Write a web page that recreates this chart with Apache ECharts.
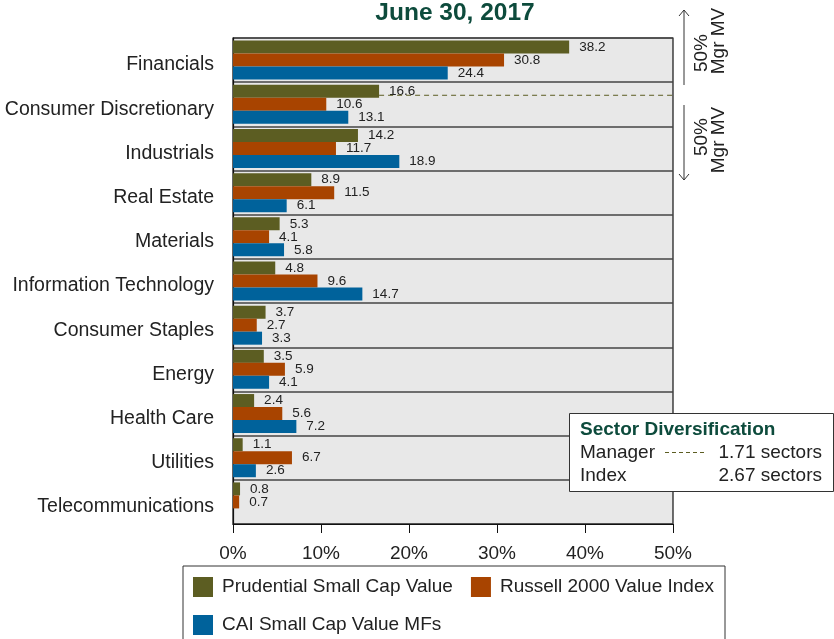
<!DOCTYPE html>
<html>
<head>
<meta charset="utf-8">
<script src="https://cdn.jsdelivr.net/npm/echarts@6/dist/echarts.min.js"></script>
<style>
html,body{margin:0;padding:0;background:#fff;}
#c{width:834px;height:639px;}
</style>
</head>
<body>
<div id="c"></div>
<script>
var categories = ['Financials','Consumer Discretionary','Industrials','Real Estate','Materials','Information Technology','Consumer Staples','Energy','Health Care','Utilities','Telecommunications'];
var prudential = [38.2,16.6,14.2,8.9,5.3,4.8,3.7,3.5,2.4,1.1,0.8];
var russell = [30.8,10.6,11.7,11.5,4.1,9.6,2.7,5.9,5.6,6.7,0.7];
var caiMFs = [24.4,13.1,18.9,6.1,5.8,14.7,3.3,4.1,7.2,2.6,null];
var seriesNames = ['Prudential Small Cap Value','Russell 2000 Value Index','CAI Small Cap Value MFs'];
var xTicks = [0,10,20,30,40,50];
var managerLineCategory = 1;
var managerLineEnd = 50;
var diversification = [['Manager','1.71 sectors'],['Index','2.67 sectors']];

var colors = ['#5c5d22','#a84400','#00629b'];
var font = 'Liberation Sans, Arial, sans-serif';
var chart = echarts.init(document.getElementById('c'));

function barSeries(name, data, color){
  return {
    name: name, type: 'bar', data: data, barWidth: 13, barGap: '0%',
    itemStyle: {color: color},
    label: {show: true, position: 'right', distance: 10, color: '#222', fontFamily: font, fontSize: 13.5,
      formatter: function(p){ return p.value == null ? '' : p.value.toFixed(1); }},
    z: 2
  };
}

var option = {
  animation: false,
  textStyle: {fontFamily: font},
  title: {text: 'June 30, 2017', left: 450, textAlign: 'center', top: -4,
    textStyle: {fontFamily: font, fontSize: 24.5, fontWeight: 'bold', color: '#0d4b3c'}},
  grid: {left: 233, right: 161, top: 38, bottom: 115, show: true, backgroundColor: '#e8e8e8', borderColor: '#111', borderWidth: 1.2},
  xAxis: {type: 'value', min: xTicks[0], max: xTicks[xTicks.length-1], interval: 10,
    axisLine: {show: true, lineStyle: {color: '#111', width: 1.2}},
    axisTick: {show: true, length: 9, lineStyle: {color: '#111'}},
    splitLine: {show: false},
    axisLabel: {formatter: '{value}%', fontSize: 19, color: '#222', margin: 20, fontFamily: font}},
  yAxis: {type: 'category', data: categories, inverse: true,
    axisLine: {show: true, lineStyle: {color: '#111', width: 1.2}},
    axisTick: {show: false},
    splitLine: {show: true, lineStyle: {color: '#444', width: 1.5}},
    axisLabel: {fontSize: 19.5, color: '#222', margin: 19, fontFamily: font, verticalAlign: 'top', lineHeight: 10}},
  legend: {data: seriesNames, left: 183, top: 566, width: 530, orient: 'horizontal',
    itemWidth: 20, itemHeight: 20, itemGap: 18, icon: 'rect',
    borderColor: '#333', borderWidth: 1, padding: [11, 11, 12, 10],
    textStyle: {fontSize: 19, color: '#222', fontFamily: font, padding: [0, 6, 0, 4]}},
  series: [
    barSeries(seriesNames[0], prudential, colors[0]),
    barSeries(seriesNames[1], russell, colors[1]),
    barSeries(seriesNames[2], caiMFs, colors[2]),
    {type: 'custom', name: 'managerLine', silent: true, z: 5,
      data: [[prudential[managerLineCategory], managerLineCategory, managerLineEnd]],
      encode: {x: 0, y: 1},
      renderItem: function(params, api){
        var p1 = api.coord([api.value(0), api.value(1)]);
        var p2 = api.coord([api.value(2), api.value(1)]);
        var y = p1[1] - 9;
        return {type: 'line', shape: {x1: p1[0], y1: y, x2: p2[0], y2: y},
          style: {stroke: colors[0], lineWidth: 1, lineDash: [5, 4]}};
      }}
  ],
  graphic: [
    {type: 'line', shape: {x1: 684, y1: 10, x2: 684, y2: 85}, style: {stroke: '#333', lineWidth: 1}},
    {type: 'polyline', shape: {points: [[679, 16], [684, 10], [689, 16]]}, style: {stroke: '#333', lineWidth: 1, fill: null}},
    {type: 'text', x: 702, y: 53, rotation: Math.PI/2, style: {text: '50%', font: '19px ' + font, fill: '#222', align: 'center', verticalAlign: 'middle'}},
    {type: 'text', x: 719, y: 41, rotation: Math.PI/2, style: {text: 'Mgr MV', font: '19px ' + font, fill: '#222', align: 'center', verticalAlign: 'middle'}},
    {type: 'line', shape: {x1: 684, y1: 105, x2: 684, y2: 180}, style: {stroke: '#333', lineWidth: 1}},
    {type: 'polyline', shape: {points: [[679, 174], [684, 180], [689, 174]]}, style: {stroke: '#333', lineWidth: 1, fill: null}},
    {type: 'text', x: 702, y: 137, rotation: Math.PI/2, style: {text: '50%', font: '19px ' + font, fill: '#222', align: 'center', verticalAlign: 'middle'}},
    {type: 'text', x: 719, y: 140, rotation: Math.PI/2, style: {text: 'Mgr MV', font: '19px ' + font, fill: '#222', align: 'center', verticalAlign: 'middle'}},
    {type: 'rect', shape: {x: 569.5, y: 413.5, width: 264, height: 78}, style: {fill: '#fff', stroke: '#333', lineWidth: 1}, z: 10},
    {type: 'text', x: 580, y: 430, z: 11, style: {text: 'Sector Diversification', font: 'bold 19px ' + font, fill: '#0d4b3c', verticalAlign: 'middle'}},
    {type: 'text', x: 580, y: 453, z: 11, style: {text: diversification[0][0], font: '19px ' + font, fill: '#222', verticalAlign: 'middle'}},
    {type: 'line', z: 11, shape: {x1: 665, y1: 452.5, x2: 707, y2: 452.5}, style: {stroke: colors[0], lineWidth: 1, lineDash: [4, 3]}},
    {type: 'text', x: 822, y: 453, z: 11, style: {text: diversification[0][1], font: '19px ' + font, fill: '#222', align: 'right', verticalAlign: 'middle'}},
    {type: 'text', x: 580, y: 476, z: 11, style: {text: diversification[1][0], font: '19px ' + font, fill: '#222', verticalAlign: 'middle'}},
    {type: 'text', x: 822, y: 476, z: 11, style: {text: diversification[1][1], font: '19px ' + font, fill: '#222', align: 'right', verticalAlign: 'middle'}}
  ]
};
chart.setOption(option);
</script>
</body>
</html>
